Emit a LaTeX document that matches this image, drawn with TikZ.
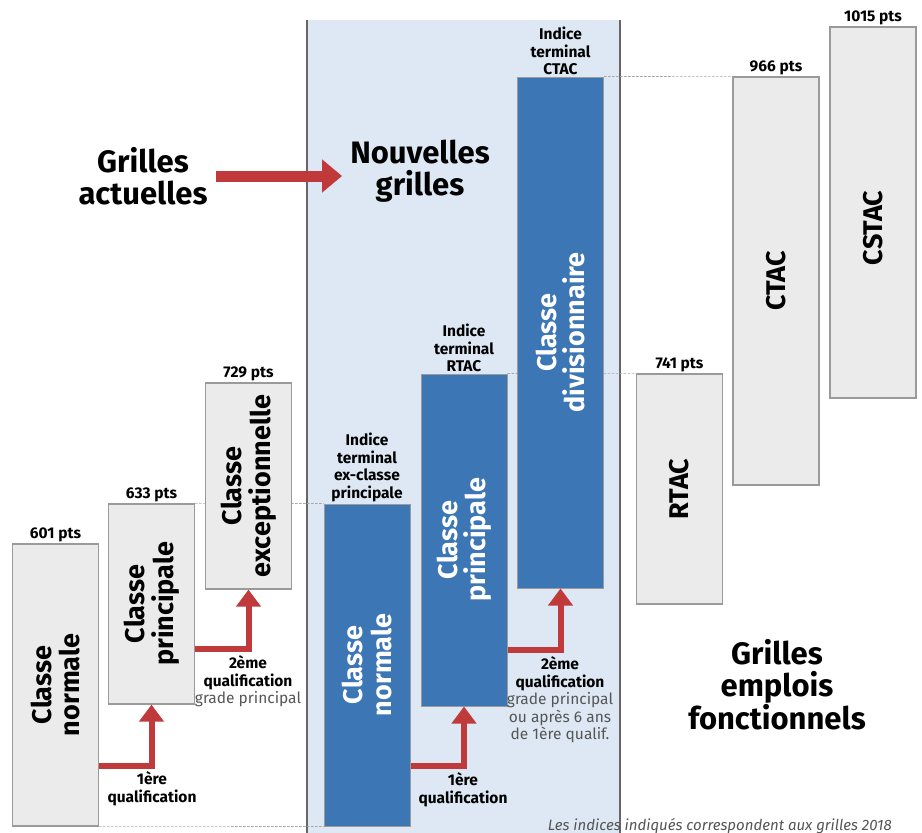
\documentclass[tikz,border=0pt]{standalone}
\usepackage{fontspec}
\setmainfont{Fira Sans}
\usetikzlibrary{arrows.meta, positioning, backgrounds}
\definecolor{qred}{HTML}{C0393B}
\definecolor{newblue}{HTML}{3C76B4}
\definecolor{panelblue}{HTML}{DDE8F4}
\definecolor{oldgray}{HTML}{EBEBEB}
\definecolor{edgegray}{HTML}{9A9A9A}
\definecolor{notegray}{HTML}{555555}

\tikzset{
  oldbox/.style={draw=edgegray, fill=oldgray, line width=1.2pt, minimum width=86pt, inner sep=0pt},
  newbox/.style={draw=edgegray, fill=newblue, line width=1pt, minimum width=86pt, inner sep=0pt},
  boxtext/.style={rotate=90, align=center, inner sep=0pt, font=\fontsize{27}{28.5}\selectfont\bfseries},
  small/.style={align=center, inner sep=1.5pt, font=\fontsize{15.5}{17.5}\selectfont\bfseries},
  title/.style={align=center, inner sep=8pt, font=\fontsize{31}{32}\selectfont\bfseries},
  qarrow/.style={draw=qred, line width=6pt, line join=miter, -{Triangle[width=24pt,length=17pt]}},
  bigarrow/.style={draw=qred, line width=11pt, -{Triangle[width=32pt,length=20pt]}},
  guide/.style={draw=gray!70, line width=0.6pt, dash pattern=on 2.5pt off 1.5pt},
  note/.style={font=\fontsize{15}{16}\selectfont\itshape, text=notegray, inner sep=0pt}
}

\begin{document}
\begin{tikzpicture}[x=1pt, y=-1pt]
\useasboundingbox (0,0) rectangle (922,833);

% grilles actuelles
\node[oldbox, minimum height=282pt, label={[small]above:601 pts}] (oldnorm) at (55.5,685) {};
\node[oldbox, minimum height=200pt, label={[small]above:633 pts}] (oldprinc) at (151.5,604) {};
\node[oldbox, minimum height=206pt, label={[small]above:729 pts}] (oldexc) at (248.5,486) {};
\node[boxtext] at (oldnorm) {Classe\\normale};
\node[boxtext] at (oldprinc) {Classe\\principale};
\node[boxtext] at (oldexc) {Classe\\exceptionnelle};

% nouvelles grilles
\node[newbox, minimum height=322pt, label={[small]above:Indice\\terminal\\ex-classe\\principale}] (newnorm) at (367,665) {};
\node[newbox, minimum height=332pt, label={[small]above:Indice\\terminal\\RTAC}] (newprinc) at (464,540) {};
\node[newbox, minimum height=511pt, label={[small]above:Indice\\terminal\\CTAC}] (newdiv) at (560.5,332.5) {};
\node[boxtext, text=white] at (newnorm) {Classe\\normale};
\node[boxtext, text=white] at (newprinc) {Classe\\principale};
\node[boxtext, text=white] at (newdiv) {Classe\\divisionnaire};

% emplois fonctionnels
\node[oldbox, minimum height=230pt, label={[small]above:741 pts}] (rtac) at (679.5,489) {};
\node[oldbox, minimum height=408pt, label={[small]above:966 pts}] (ctac) at (776,281) {};
\node[oldbox, minimum height=371pt, label={[small]above:1015 pts}] (cstac) at (873,212.5) {};
\node[boxtext] at (rtac) {RTAC};
\node[boxtext] at (ctac) {CTAC};
\node[boxtext] at (873,228) {CSTAC};

% titres
\node[title] (actuelles) at (143,176) {Grilles\\actuelles};
\node[title] (nouvelles) at (420,171) {Nouvelles\\grilles};
\node[title] (fonctionnels) at (777,685) {Grilles\\emplois\\fonctionnels};
\draw[bigarrow] (actuelles.east) -- (actuelles.east -| nouvelles.west);

% qualifications
\draw[qarrow] (oldnorm.east |- 0,766) -| (oldprinc.south);
\draw[qarrow] (oldprinc.east |- 0,649) -| (oldexc.south);
\draw[qarrow] (newnorm.east |- 0,766) -| (newprinc.south);
\draw[qarrow] (newprinc.east |- 0,650) -| (newdiv.south);
\node[small, anchor=north] (q1old) at (152,770) {1ère\\qualification};
\node[small, anchor=north] (q2old) at (248,654) {2ème\\qualification\\{\mdseries\color{notegray}grade principal}};
\node[small, anchor=north] (q1new) at (463,771) {1ère\\qualification};
\node[small, anchor=north] (q2new) at (560,655) {2ème\\qualification\\{\mdseries\color{notegray}grade principal}\\{\mdseries\color{notegray}ou après 6 ans}\\{\mdseries\color{notegray}de 1ère qualif.}};

\node[note, anchor=base east] (note) at (892,830) {Les indices indiqués correspondent aux grilles 2018};

\begin{scope}[on background layer]
\fill[panelblue] (307,20) rectangle (620,840);
\draw[gray!80!black, line width=1.8pt] (307,840) -- (307,20) (620,20) -- (620,840);
\draw[guide] (oldprinc.north east) -- (newnorm.north west);
\draw[guide] (oldnorm.south east) -- (newnorm.south west);
\draw[guide] (newprinc.north east) -- (rtac.north west);
\draw[guide] (newdiv.north east) -- (ctac.north west);
\end{scope}
\end{tikzpicture}
\end{document}
